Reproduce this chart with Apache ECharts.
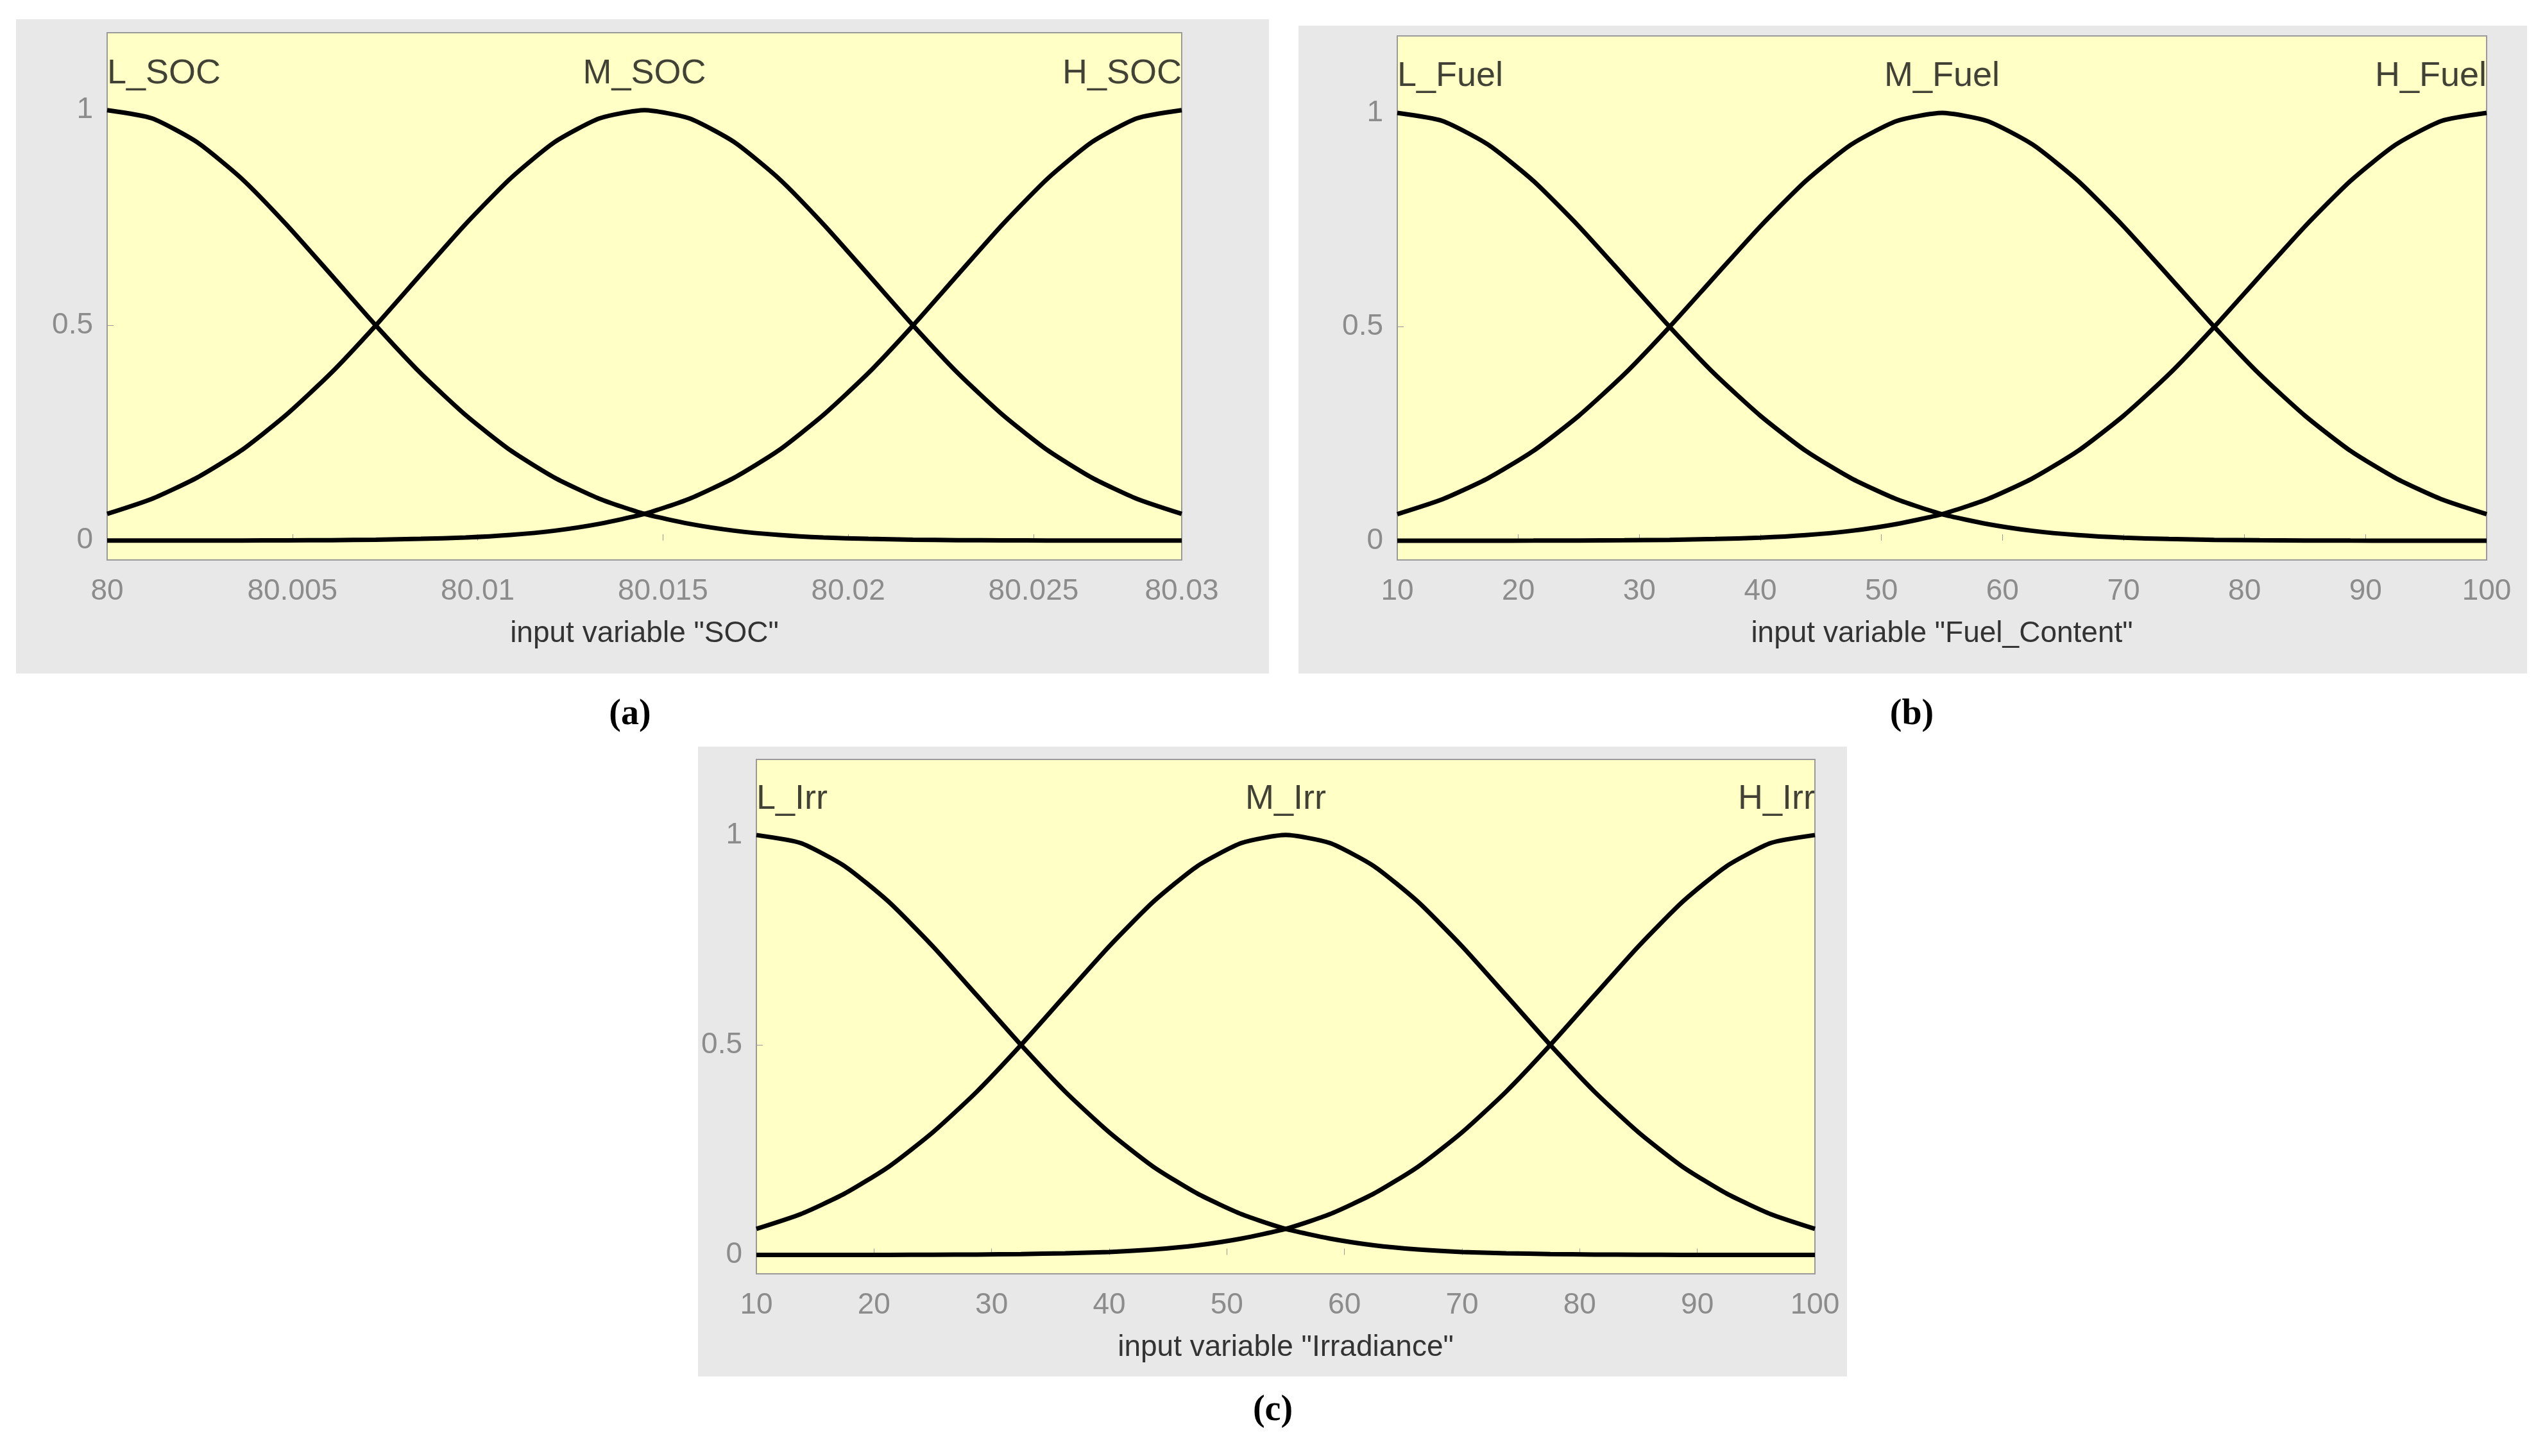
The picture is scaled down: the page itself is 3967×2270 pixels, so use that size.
<!doctype html>
<html>
<head>
<meta charset="utf-8">
<script src="https://cdn.jsdelivr.net/npm/echarts@6/dist/echarts.min.js"></script>
<style>
	html, body { margin: 0; padding: 0; background: #fff; }
	#chart { width: 3967px; height: 2270px; }
</style>
</head>
<body>
<div id="chart"></div>
<script>
	// x sample points for each panel
	var socX = [80, 80.00121, 80.00242, 80.00363, 80.00483, 80.00604, 80.00725, 80.00846, 80.00967, 80.01088, 80.01208, 80.01329, 80.0145,
		80.01571, 80.01692, 80.01813, 80.01933, 80.02054, 80.02175, 80.02296, 80.02417, 80.02538, 80.02658, 80.02779, 80.029];
	var pctX = [10, 13.75, 17.5, 21.25, 25, 28.75, 32.5, 36.25, 40, 43.75, 47.5, 51.25, 55,
		58.75, 62.5, 66.25, 70, 73.75, 77.5, 81.25, 85, 88.75, 92.5, 96.25, 100];
	// membership values (same shape in all panels)
	var lowY  = [1, 0.981, 0.926, 0.841, 0.735, 0.618, 0.5, 0.389, 0.292, 0.21, 0.146, 0.097, 0.062,
		0.039, 0.023, 0.013, 0.007, 0.004, 0.002, 0.001, 0.0005, 0.0002, 0.0001, 0, 0];
	var midY  = [0.062, 0.097, 0.146, 0.21, 0.292, 0.389, 0.5, 0.618, 0.735, 0.841, 0.926, 0.981, 1,
		0.981, 0.926, 0.841, 0.735, 0.618, 0.5, 0.389, 0.292, 0.21, 0.146, 0.097, 0.062];
	var highY = [0, 0, 0.0001, 0.0002, 0.0005, 0.001, 0.002, 0.004, 0.007, 0.013, 0.023, 0.039, 0.062,
		0.097, 0.146, 0.21, 0.292, 0.389, 0.5, 0.618, 0.735, 0.841, 0.926, 0.981, 1];
	var socTicks = [80, 80.005, 80.01, 80.015, 80.02, 80.025, 80.029];
	var pctTicks = [10, 20, 30, 40, 50, 60, 70, 80, 90, 100];
	var panels = [
		{ x: socX, ticks: socTicks, names: ['L_SOC', 'M_SOC', 'H_SOC'], title: 'input variable "SOC"',
		  grid: { left: 167, top: 51, width: 1675, height: 822 }, box: [25, 30, 1953, 1020], cap: '(a)', capPos: [982, 1115] },
		{ x: pctX, ticks: pctTicks, names: ['L_Fuel', 'M_Fuel', 'H_Fuel'], title: 'input variable "Fuel_Content"',
		  grid: { left: 2178, top: 56, width: 1698, height: 817 }, box: [2024, 40, 1915, 1010], cap: '(b)', capPos: [2980, 1115] },
		{ x: pctX, ticks: pctTicks, names: ['L_Irr', 'M_Irr', 'H_Irr'], title: 'input variable "Irradiance"',
		  grid: { left: 1179, top: 1184, width: 1650, height: 802 }, box: [1088, 1164, 1791, 982], cap: '(c)', capPos: [1984, 2200] }
	];

	function pair(xs, ys) {
		var out = [];
		for (var i = 0; i < xs.length; i++) out.push([xs[i], ys[i]]);
		return out;
	}

	var grids = [], xAxes = [], yAxes = [], series = [], graphics = [];
	panels.forEach(function (p, k) {
		graphics.push({ type: 'rect', z: -10, shape: { x: p.box[0], y: p.box[1], width: p.box[2], height: p.box[3] },
			style: { fill: '#e8e8e8' } });
		graphics.push({ type: 'text', x: p.capPos[0], y: p.capPos[1],
			style: { text: p.cap, font: 'bold 56px "Liberation Serif"', fill: '#000', align: 'center', verticalAlign: 'middle' } });
		grids.push(Object.assign({ show: true, backgroundColor: '#ffffc6', borderColor: '#9a9a9a', borderWidth: 2 }, p.grid));
		var xmin = p.x[0], xmax = p.x[p.x.length - 1];
		xAxes.push({
			gridIndex: k, type: 'value', min: xmin, max: xmax,
			name: p.title, nameLocation: 'middle', nameGap: 92,
			nameTextStyle: { fontSize: 46, color: '#333', fontFamily: 'Liberation Sans' },
			axisLine: { show: false }, splitLine: { show: false },
			axisTick: { show: true, inside: true, length: 10, lineStyle: { color: '#999' }, customValues: p.ticks },
			axisLabel: { customValues: p.ticks, fontSize: 46, color: '#8c8c8c', margin: 26, fontFamily: 'Liberation Sans',
				formatter: function (v) { return v > 80.028 && v < 80.1 ? '80.03' : String(+v.toFixed(3)); } }
		});
		yAxes.push({
			gridIndex: k, type: 'value', min: -0.045, max: 1.18,
			axisLine: { show: false }, splitLine: { show: false },
			axisTick: { show: true, inside: true, length: 10, lineStyle: { color: '#999' }, customValues: [0, 0.5, 1] },
			axisLabel: { customValues: [0, 0.5, 1], fontSize: 46, color: '#8c8c8c', margin: 22, fontFamily: 'Liberation Sans' }
		});
		[lowY, midY, highY].forEach(function (ys) {
			series.push({ type: 'line', xAxisIndex: k, yAxisIndex: k, data: pair(p.x, ys), smooth: 0.2,
				showSymbol: false, lineStyle: { color: '#000', width: 7 }, silent: true });
		});
		var mid = p.x[12];
		series.push({
			type: 'scatter', xAxisIndex: k, yAxisIndex: k, symbolSize: 0, silent: true,
			data: [
				{ value: [xmin, 1.085], label: { align: 'left', formatter: p.names[0] } },
				{ value: [mid, 1.085], label: { align: 'center', formatter: p.names[1] } },
				{ value: [xmax, 1.085], label: { align: 'right', formatter: p.names[2] } }
			],
			label: { show: true, position: 'inside', fontSize: 54, color: '#111', fontFamily: 'Liberation Sans' }
		});
	});

	var myChart = echarts.init(document.getElementById('chart'));
	myChart.setOption({
		animation: false,
		backgroundColor: '#fff',
		graphic: graphics,
		grid: grids,
		xAxis: xAxes,
		yAxis: yAxes,
		series: series
	});
</script>
</body>
</html>
